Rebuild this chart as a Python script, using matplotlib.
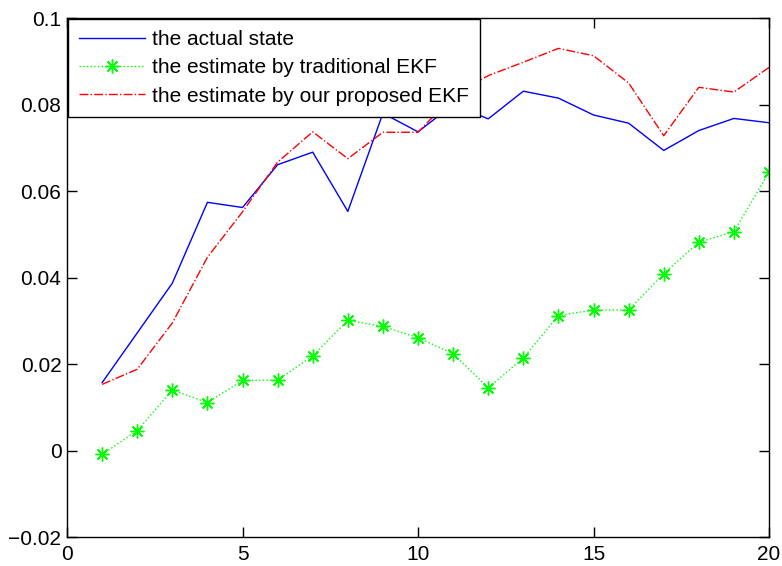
import matplotlib
matplotlib.use("Agg")
import matplotlib.pyplot as plt

plt.rcParams['font.family'] = ['Liberation Sans', 'DejaVu Sans']

# step index
steps = list(range(1, 21))

actual_state = [0.0157, 0.0272, 0.0387, 0.0574, 0.0562, 0.0661, 0.0690, 0.0553, 0.0780, 0.0737,
                0.0800, 0.0767, 0.0831, 0.0815, 0.0776, 0.0757, 0.0694, 0.0740, 0.0768, 0.0758]
traditional_ekf = [-0.0009, 0.0046, 0.0140, 0.0111, 0.0162, 0.0163, 0.0219, 0.0301, 0.0287, 0.0261,
                   0.0224, 0.0145, 0.0214, 0.0312, 0.0325, 0.0325, 0.0409, 0.0482, 0.0506, 0.0644]
proposed_ekf = [0.0153, 0.0188, 0.0295, 0.0447, 0.0552, 0.0667, 0.0737, 0.0675, 0.0736, 0.0736,
                0.0820, 0.0867, 0.0898, 0.0930, 0.0913, 0.0850, 0.0728, 0.0840, 0.0829, 0.0886]

labels = ['the actual state',
          'the estimate by traditional EKF',
          'the estimate by our proposed EKF']

fig = plt.figure(figsize=(7.82, 5.66), dpi=100)
ax = fig.add_axes([0.0857, 0.0512, 0.8977, 0.9168])

ax.plot(steps, actual_state, '-', color='#0000ff', lw=1.0, label=labels[0])
ax.plot(steps, traditional_ekf, ':', color='#00ff00', lw=1.0,
        marker=(8, 2, 0), markersize=10, markeredgewidth=1.0, label=labels[1])
ax.plot(steps, proposed_ekf, '-.', color='#ff0000', lw=1.0, label=labels[2])

ax.set_xlim(0, 20)
ax.set_ylim(-0.02, 0.1)
ax.set_xticks([0, 5, 10, 15, 20])
ax.set_yticks([-0.02, 0, 0.02, 0.04, 0.06, 0.08, 0.1])
ax.set_yticklabels(['\u22120.02', '0', '0.02', '0.04', '0.06', '0.08', '0.1'])
ax.tick_params(direction='in', length=7, width=1, top=True, right=True, labelsize=15)
ax.tick_params(axis='y', pad=4)
ax.tick_params(axis='x', pad=6)
for s in ax.spines.values():
    s.set_linewidth(1.0)

leg = ax.legend(loc='upper left', fontsize=15, frameon=True, fancybox=False,
                borderaxespad=0.05, handlelength=3.15, handletextpad=0.35,
                labelspacing=0.45, borderpad=0.52)
leg.get_frame().set_edgecolor('black')
leg.get_frame().set_linewidth(1.0)
leg.get_frame().set_alpha(1.0)

fig.savefig('out.png', dpi=100)
